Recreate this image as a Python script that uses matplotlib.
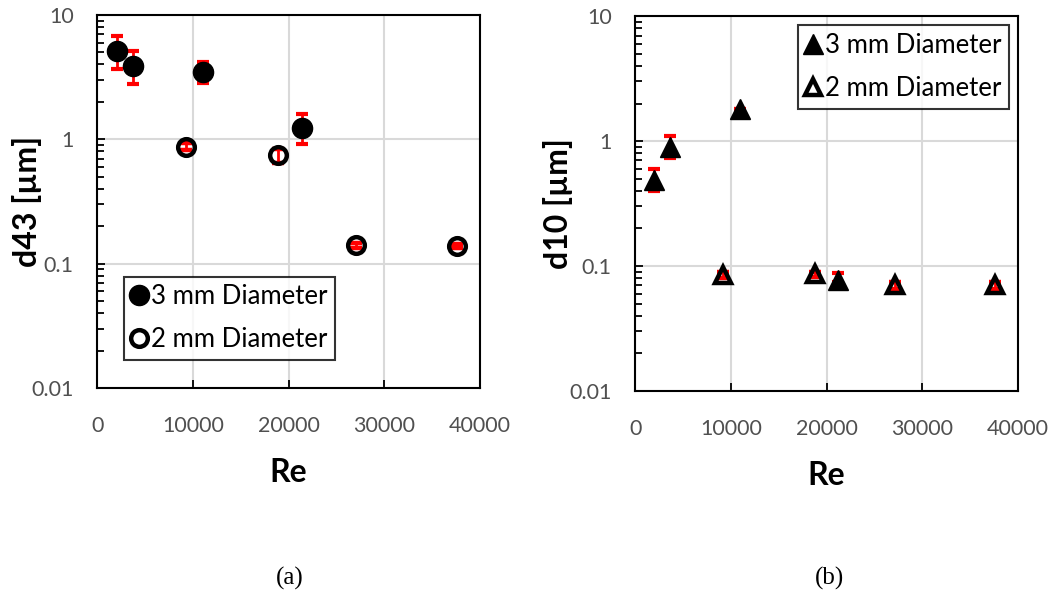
import numpy as np
import matplotlib
matplotlib.use('Agg')
import matplotlib.pyplot as plt
from matplotlib.ticker import LogLocator, FixedLocator, FuncFormatter, NullFormatter

plt.rcParams['font.family'] = ['Lato', 'DejaVu Sans']

# panel (a): d43
re3_a = [2100, 3700, 11100, 21400]
d43_3 = [5.1, 3.9, 3.5, 1.23]
d43_3_lo = [1.4, 1.1, 0.65, 0.32]
d43_3_hi = [1.7, 1.25, 0.7, 0.36]

re2_a = [9250, 18850, 27100, 37600]
d43_2 = [0.87, 0.75, 0.141, 0.139]
d43_2_lo = [0.05, 0.11, 0.006, 0.006]
d43_2_hi = [0.06, 0.08, 0.006, 0.006]

# panel (b): d10
re3_b = [2000, 3600, 11000, 21200]
d10_3 = [0.49, 0.9, 1.8, 0.078]
d10_3_lo = [0.09, 0.17, 0.0, 0.004]
d10_3_hi = [0.11, 0.2, 0.0, 0.01]

re2_b = [9150, 18750, 27150, 37600]
d10_2 = [0.085, 0.086, 0.07, 0.07]
d10_2_lo = [0.004, 0.004, 0.004, 0.004]
d10_2_hi = [0.004, 0.004, 0.004, 0.004]

xticks = [0, 10000, 20000, 30000, 40000]
yticks = [0.01, 0.1, 1, 10]
ylabels = ['0.01', '0.1', '1', '10']

fig = plt.figure(figsize=(10.57, 5.98), dpi=100)
ax1 = fig.add_axes([0.092, 0.351, 0.362, 0.624])
ax2 = fig.add_axes([0.601, 0.346, 0.362, 0.627])


def style(ax, ylab, labx):
    ax.set_yscale('log')
    ax.set_xlim(0, 40000)
    ax.set_ylim(0.01, 10)
    ax.set_xticks(xticks)
    ax.set_xticklabels([str(t) for t in xticks])
    ax.yaxis.set_major_locator(FixedLocator(yticks))
    ax.yaxis.set_major_formatter(FuncFormatter(lambda v, p: ylabels[yticks.index(v)] if v in yticks else ''))
    ax.yaxis.set_minor_locator(LogLocator(base=10, subs=np.arange(2, 10)))
    ax.yaxis.set_minor_formatter(NullFormatter())
    ax.grid(True, which='major', color='#d9d9d9', linewidth=1.5)
    ax.set_axisbelow(True)
    ax.tick_params(axis='both', which='major', direction='in', length=6, width=1.3,
                   labelsize=15.5, colors='black', labelcolor='#505050')
    ax.tick_params(axis='x', pad=20)
    ax.tick_params(axis='y', pad=17)
    ax.tick_params(axis='y', which='minor', direction='in', length=5, width=1.3)
    ax.tick_params(axis='x', which='both', top=False)
    ax.tick_params(axis='y', which='both', right=False)
    for s in ax.spines.values():
        s.set_linewidth(1.5)
    ax.set_xlabel('Re', fontsize=23, fontweight='bold', labelpad=16)
    ax.set_ylabel(ylab, fontsize=23, fontweight='bold')
    ax.yaxis.set_label_coords(labx, 0.5)


def add_legend(ax, loc, anchor):
    h, l = ax.get_legend_handles_labels()
    leg = ax.legend([hh[0] for hh in h], l, loc=loc, bbox_to_anchor=anchor,
                    fontsize=18.5, frameon=True, fancybox=False, edgecolor='black',
                    handlelength=0.6, handletextpad=0.15, borderpad=0.3, labelspacing=0.7,
                    borderaxespad=0)
    leg.get_frame().set_linewidth(1.5)


err_kw = dict(ecolor='red', elinewidth=2, capsize=4.5, capthick=3, linestyle='none')

ax1.errorbar(re3_a, d43_3, yerr=[d43_3_lo, d43_3_hi], fmt='o', color='black',
             markersize=14.5, label='3 mm Diameter', zorder=3, **err_kw)
ax1.errorbar(re2_a, d43_2, yerr=[d43_2_lo, d43_2_hi], fmt='o', markerfacecolor='none',
             markeredgecolor='black', markeredgewidth=3.2, markersize=12,
             label='2 mm Diameter', zorder=3, **err_kw)
style(ax1, 'd43 [µm]', -0.144)
add_legend(ax1, 'lower left', (0.07, 0.075))

ax2.errorbar(re3_b, d10_3, yerr=[d10_3_lo, d10_3_hi], fmt='^', color='black',
             markersize=14, label='3 mm Diameter', zorder=3, **err_kw)
ax2.errorbar(re2_b, d10_2, yerr=[d10_2_lo, d10_2_hi], fmt='^', markerfacecolor='none',
             markeredgecolor='black', markeredgewidth=3.2, markersize=12,
             label='2 mm Diameter', zorder=3, **err_kw)
style(ax2, 'd10 [µm]', -0.162)
add_legend(ax2, 'upper right', (0.977, 0.976))

fig.text(0.274, 0.033, '(a)', fontsize=18, family='Liberation Serif', ha='center', va='center')
fig.text(0.785, 0.033, '(b)', fontsize=18, family='Liberation Serif', ha='center', va='center')

fig.savefig('out.png', dpi=100)
